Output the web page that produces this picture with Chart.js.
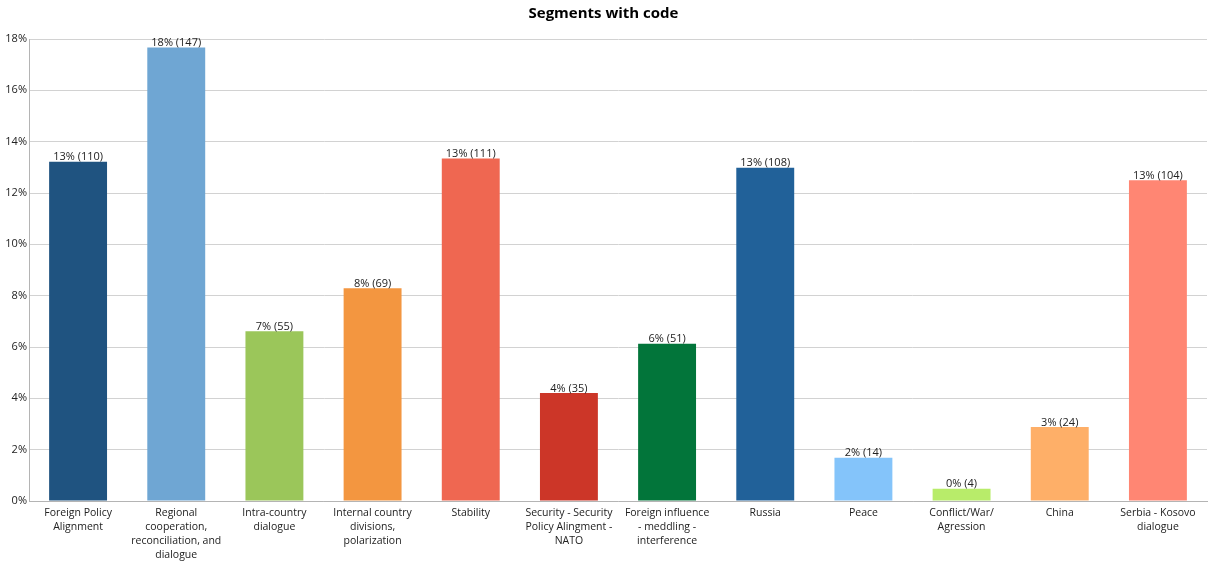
<!DOCTYPE html>
<html>
<head>
<meta charset="utf-8">
<script src="https://cdn.jsdelivr.net/npm/chart.js@4"></script>
<style>
  html, body { margin: 0; padding: 0; background: #fff; }
  #wrap { width: 1212px; height: 563px; }
</style>
</head>
<body>
<div id="wrap"><canvas id="c" width="1212" height="563"></canvas></div>
<script>
// Code categories (split into display lines)
const categories = [
  ["Foreign Policy", "Alignment"],
  ["Regional", "cooperation,", "reconciliation, and", "dialogue"],
  ["Intra-country", "dialogue"],
  ["Internal country", "divisions,", "polarization"],
  ["Stability"],
  ["Security - Security", "Policy Alingment -", "NATO"],
  ["Foreign influence", "- meddling -", "interference"],
  ["Russia"],
  ["Peace"],
  ["Conflict/War/", "Agression"],
  ["China"],
  ["Serbia - Kosovo", "dialogue"]
];

// Number of segments tagged with each code
const segmentCounts = [110, 147, 55, 69, 111, 35, 51, 108, 14, 4, 24, 104];

const barColors = [
  "#1F5380", "#6FA6D3", "#9BC65A", "#F39640", "#EF6751", "#CC3628",
  "#02753A", "#216199", "#84C4FA", "#B8EC6A", "#FEAF68", "#FF8673"
];

const yTicks = [0, 2, 4, 6, 8, 10, 12, 14, 16, 18];

const totalSegments = segmentCounts.reduce((a, b) => a + b, 0);
const shares = segmentCounts.map(n => n / totalSegments * 100);

const FONT = "'Open Sans', 'Noto Sans', sans-serif";

// Writes "NN% (count)" above each bar
const valueLabels = {
  id: "valueLabels",
  afterDatasetsDraw(chart) {
    const ctx = chart.ctx;
    const meta = chart.getDatasetMeta(0);
    ctx.save();
    ctx.font = "11px " + FONT;
    ctx.fillStyle = "#222";
    ctx.textAlign = "center";
    ctx.textBaseline = "bottom";
    meta.data.forEach((bar, i) => {
      const txt = Math.round(shares[i]) + "% (" + segmentCounts[i] + ")";
      ctx.fillText(txt, bar.x, bar.y + 1);
    });
    ctx.restore();
  }
};

new Chart(document.getElementById("c"), {
  type: "bar",
  data: {
    labels: categories,
    datasets: [{
      data: shares,
      backgroundColor: barColors,
      borderWidth: 0,
      barPercentage: 0.59,
      categoryPercentage: 1.0
    }]
  },
  options: {
    responsive: false,
    animation: false,
    layout: { padding: { left: 0, right: 5, top: 0, bottom: 0 } },
    plugins: {
      legend: { display: false },
      tooltip: { enabled: false },
      title: {
        display: true,
        text: "Segments with code",
        color: "#000",
        font: { family: FONT, size: 15, weight: "bold" },
        padding: { top: 5, bottom: 16 }
      }
    },
    scales: {
      x: {
        grid: { display: false, drawTicks: false },
        border: { display: true, color: "#b4b4b4", width: 1 },
        ticks: {
          color: "#222",
          font: { family: FONT, size: 10.5, lineHeight: 1.333 },
          padding: 5,
          maxRotation: 0,
          autoSkip: false
        },
        afterFit(scale) { scale.height = 62; }
      },
      y: {
        min: 0,
        max: 18,
        afterBuildTicks(scale) { scale.ticks = yTicks.map(v => ({ value: v })); },
        grid: { color: "#d2d2d2", lineWidth: 1, drawTicks: false },
        border: { display: true, color: "#b4b4b4", width: 1 },
        ticks: {
          color: "#222",
          font: { family: FONT, size: 11 },
          padding: 2,
          callback: v => v + "%"
        },
        afterFit(scale) { scale.width = 29; }
      }
    }
  },
  plugins: [valueLabels]
});
</script>
</body>
</html>
